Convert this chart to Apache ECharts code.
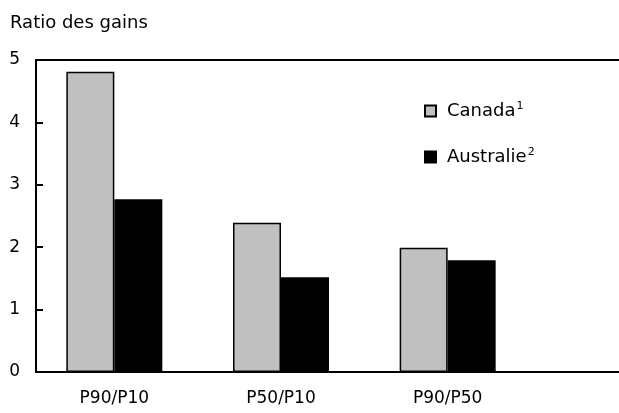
<!DOCTYPE html>
<html><head><meta charset="utf-8">
<script src="https://cdn.jsdelivr.net/npm/echarts@6/dist/echarts.min.js"></script>
<style>html,body{margin:0;padding:0;background:#fff}#c{width:619px;height:413px}</style>
</head><body><div id="c"></div>
<script>
const categories = ['P90/P10', 'P50/P10', 'P90/P50'];
const canada = [4.81, 2.39, 1.99];
const australie = [2.77, 1.52, 1.79];
const yTicks = [0, 1, 2, 3, 4, 5];
const seriesNames = ['Canada', 'Australie'];
const seriesSup = {'Canada': '1', 'Australie': '2'};

const FONT = 'DejaVu Sans';
const chart = echarts.init(document.getElementById('c'));
chart.setOption({
  animation: false,
  textStyle: {fontFamily: FONT, color: '#000'},
  title: {text: 'Ratio des gains', left: 5, top: 9, textStyle: {fontFamily: FONT, fontSize: 18, fontWeight: 'normal', color: '#000'}},
  legend: {
    orient: 'vertical', left: 419, top: 96, itemGap: 27, itemWidth: 11, itemHeight: 11,
    icon: 'rect', selectedMode: false,
    data: seriesNames,
    formatter: n => '{a|' + n + '}{s|' + seriesSup[n] + '}',
    textStyle: {fontFamily: FONT, rich: {a: {fontSize: 18, color: '#000', fontFamily: FONT, padding: [0, 0, 0, 6]}, s: {fontSize: 11, color: '#000', fontFamily: FONT, padding: [0, 0, 9, 1]}}}
  },
  grid: [
    {left: 36, right: 0, top: 60, bottom: 41},
    {left: 31, right: 88, top: 60, bottom: 41}
  ],
  xAxis: [
    {gridIndex: 0, type: 'value', position: 'bottom', min: 0, max: 1, axisLine: {show: true, lineStyle: {color: '#000', width: 2}}, axisTick: {show: false}, axisLabel: {show: false}, splitLine: {show: false}},
    {gridIndex: 0, type: 'value', position: 'top', min: 0, max: 1, axisLine: {show: true, lineStyle: {color: '#000', width: 2}}, axisTick: {show: false}, axisLabel: {show: false}, splitLine: {show: false}},
    {gridIndex: 1, type: 'category', data: categories, axisLine: {show: false}, axisTick: {show: false},
     axisLabel: {fontFamily: FONT, fontSize: 17, color: '#000', margin: 18}}
  ],
  yAxis: [
    {gridIndex: 0, type: 'value', min: 0, max: 5, interval: 1,
     axisLine: {show: true, lineStyle: {color: '#000', width: 2}},
     axisTick: {show: true, inside: true, length: 7, lineStyle: {color: '#000', width: 2}},
     axisLabel: {fontFamily: FONT, fontSize: 17, color: '#000', margin: 16, formatter: v => yTicks.includes(v) ? String(v) : ''},
     splitLine: {show: false}},
    {gridIndex: 1, type: 'value', min: 0, max: 5, show: false, splitLine: {show: false}}
  ],
  series: [
    {name: 'Canada', type: 'bar', xAxisIndex: 2, yAxisIndex: 1, data: canada, barWidth: 48, barGap: '0%',
     itemStyle: {color: '#c0c0c0', borderColor: '#000', borderWidth: 1.5}},
    {name: 'Australie', type: 'bar', xAxisIndex: 2, yAxisIndex: 1, data: australie, barWidth: 48, barGap: '0%',
     itemStyle: {color: '#000', borderColor: '#000', borderWidth: 1.5}}
  ]
});
</script></body></html>
